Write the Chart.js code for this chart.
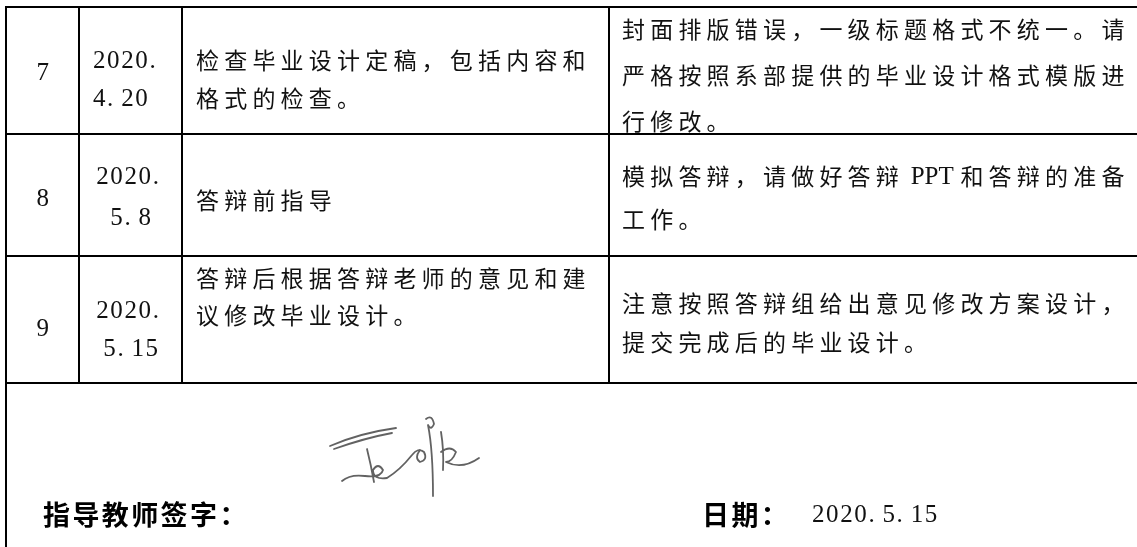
<!DOCTYPE html>
<html>
<head>
<meta charset="utf-8">
<script src="https://cdn.jsdelivr.net/npm/chart.js@4.4.1/dist/chart.umd.min.js"></script>
<style>
  html, body { margin: 0; padding: 0; background: #fff; }
  #wrap { width: 1137px; height: 547px; }
</style>
</head>
<body>
<div id="wrap"><canvas id="table-chart" width="1137" height="547"></canvas></div>
<script>
// table content, one entry per row
const rowNums = ['7', '8', '9']
const rowDates = [['2020.', '4.20'], ['2020.', '5.8'], ['2020.', '5.15']]
const rowTasks = [
  ['检查毕业设计定稿，包括内容和', '格式的检查。'],
  ['答辩前指导'],
  ['答辩后根据答辩老师的意见和建', '议修改毕业设计。']
]
const rowNotes = [
  ['封面排版错误，一级标题格式不统一。请', '严格按照系部提供的毕业设计格式模版进', '行修改。'],
  ['模拟答辩，请做好答辩 PPT 和答辩的准备', '工作。'],
  ['注意按照答辩组给出意见修改方案设计，', '提交完成后的毕业设计。']
]
const signLabel = '指导教师签字：'
const dateLabel = '日期：'
const signDate = '2020.5.15'

// layout (scene units = page pixels)
const W = 1137, H = 547
const colEdges = [6, 79, 182, 609]
const rowEdges = [7, 134, 256, 383]
const numY = [72, 198, 328]
const dateY = [[60, 98], [176, 217], [310, 348]]
const taskY = [[60, 98], [200], [278, 315]]
const noteY = [[29, 75, 121], [176, 219], [303, 342]]
const pitch = 28.2

const cjkFont = '23px "Noto Sans CJK SC"'
const latinFont = '25px "Liberation Serif", "DejaVu Serif", serif'

function isWide(ch) {
  return ch.charCodeAt(0) > 0x2e80
}
function isLetter(ch) {
  return /[A-Za-z]/.test(ch)
}
function advance(ch) {
  if (isWide(ch)) return pitch
  if (ch === ' ') return pitch / 4
  return pitch / 2
}

function spacedWidth(text) {
  let w = 0
  for (const ch of text) w += advance(ch)
  return w
}

// draws text on a fixed character grid, like the Word document does
function drawSpaced(ctx, text, x, y) {
  const chars = Array.from(text)
  let i = 0
  while (i < chars.length) {
    const ch = chars[i]
    if (isLetter(ch)) {
      // latin words keep their own spacing, centered in their grid cells
      let word = ''
      while (i < chars.length && isLetter(chars[i])) word += chars[i++]
      ctx.font = latinFont
      const cells = word.length * pitch / 2
      ctx.fillText(word, x + (cells - ctx.measureText(word).width) / 2, y + 8)
      x += cells
      continue
    }
    if (isWide(ch)) {
      ctx.font = cjkFont
      ctx.fillText(ch, x, y + 9)
    } else if (ch !== ' ') {
      ctx.font = latinFont
      ctx.fillText(ch, x, y + 8)
    }
    x += advance(ch)
    i++
  }
}

const tablePlugin = {
  id: 'tablePlugin',
  afterDraw(chart) {
    const ctx = chart.ctx
    const sx = chart.scales.x
    const sy = chart.scales.y
    const px = v => sx.getPixelForValue(v)
    const py = v => sy.getPixelForValue(v)

    ctx.save()
    ctx.strokeStyle = '#000'
    ctx.lineWidth = 2
    ctx.beginPath()
    rowEdges.forEach(function (r) {
      ctx.moveTo(px(colEdges[0] - 1), py(r))
      ctx.lineTo(px(W), py(r))
    })
    colEdges.forEach(function (c, i) {
      ctx.moveTo(px(c), py(rowEdges[0]))
      ctx.lineTo(px(c), py(i === 0 ? H : rowEdges[rowEdges.length - 1]))
    })
    ctx.stroke()

    ctx.fillStyle = '#111'
    ctx.textBaseline = 'alphabetic'
    ctx.textAlign = 'left'
    for (let i = 0; i < rowNums.length; i++) {
      // number column, centered
      const numMid = (colEdges[0] + colEdges[1]) / 2
      drawSpaced(ctx, rowNums[i], px(numMid - spacedWidth(rowNums[i]) / 2 + 1), py(numY[i]))

      // date column: first row left aligned, others centered
      const dateMid = (colEdges[1] + colEdges[2]) / 2
      rowDates[i].forEach(function (line, j) {
        let x = dateMid - spacedWidth(line) / 2 + 1
        if (i === 0) x = 93
        drawSpaced(ctx, line, px(x), py(dateY[i][j]))
      })

      rowTasks[i].forEach(function (line, j) {
        drawSpaced(ctx, line, px(colEdges[2] + 14), py(taskY[i][j]))
      })
      rowNotes[i].forEach(function (line, j) {
        drawSpaced(ctx, line, px(colEdges[3] + 13), py(noteY[i][j]))
      })
    }

    // signature row
    ctx.fillStyle = '#000'
    ctx.font = 'bold 27px "Noto Sans CJK SC"'
    let x = 43
    for (const ch of signLabel) {
      ctx.fillText(ch, px(x), py(515 + 10))
      x += 29.4
    }
    x = 702
    for (const ch of dateLabel) {
      ctx.fillText(ch, px(x), py(515 + 10))
      x += 29.4
    }
    ctx.fillStyle = '#111'
    drawSpaced(ctx, signDate, px(812), py(514))

    // handwritten signature
    ctx.strokeStyle = 'rgba(70,70,70,0.85)'
    ctx.lineWidth = 1.8
    ctx.lineCap = 'round'
    ctx.lineJoin = 'round'
    ctx.beginPath()
    ctx.moveTo(px(330), py(446)); ctx.quadraticCurveTo(px(360), py(433), px(396), py(428))
    ctx.moveTo(px(334), py(449)); ctx.quadraticCurveTo(px(365), py(438), px(392), py(433))
    ctx.moveTo(px(367), py(449)); ctx.quadraticCurveTo(px(371), py(465), px(374), py(482))
    ctx.moveTo(px(342), py(481)); ctx.quadraticCurveTo(px(350), py(474), px(365), py(476))
    ctx.quadraticCurveTo(px(381), py(478), px(383), py(470))
    ctx.quadraticCurveTo(px(378), py(462), px(373), py(470))
    ctx.quadraticCurveTo(px(373), py(480), px(387), py(478))
    ctx.quadraticCurveTo(px(400), py(470), px(412), py(455))
    ctx.quadraticCurveTo(px(418), py(447), px(424), py(452))
    ctx.quadraticCurveTo(px(428), py(460), px(420), py(462))
    ctx.quadraticCurveTo(px(414), py(458), px(420), py(450))
    ctx.moveTo(px(426), py(419)); ctx.quadraticCurveTo(px(432), py(414), px(434), py(424))
    ctx.quadraticCurveTo(px(431), py(431), px(428), py(425))
    ctx.quadraticCurveTo(px(433), py(450), px(433), py(496))
    ctx.moveTo(px(441), py(432)); ctx.quadraticCurveTo(px(444), py(450), px(443), py(470))
    ctx.moveTo(px(441), py(452)); ctx.quadraticCurveTo(px(450), py(445), px(456), py(452))
    ctx.quadraticCurveTo(px(452), py(462), px(446), py(462))
    ctx.quadraticCurveTo(px(462), py(470), px(479), py(458))
    ctx.stroke()
    ctx.restore()
  }
}

const ctx = document.getElementById('table-chart')
const tableChart = new Chart(ctx, {
  type: 'scatter',
  data: { datasets: [{ data: [], pointRadius: 0 }] },
  options: {
    responsive: false,
    animation: false,
    devicePixelRatio: 1,
    layout: { padding: 0 },
    plugins: { legend: { display: false }, tooltip: { enabled: false } },
    scales: {
      x: { type: 'linear', min: 0, max: W, display: false },
      y: { type: 'linear', min: 0, max: H, reverse: true, display: false }
    }
  },
  plugins: [tablePlugin]
})
</script>
</body>
</html>
